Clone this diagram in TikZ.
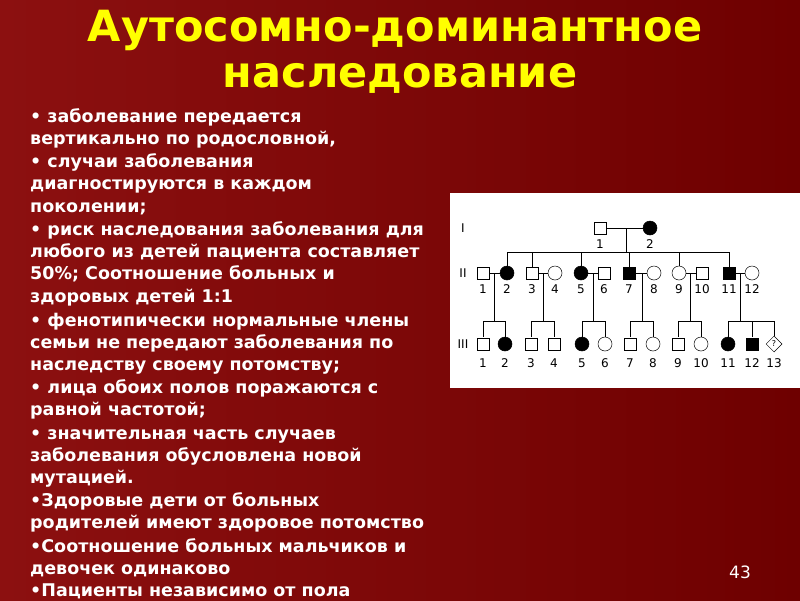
\documentclass[tikz,border=0pt]{standalone}
\usepackage{fontspec}
\setmainfont{DejaVu Sans}
\usetikzlibrary{shapes.geometric}
\begin{document}
\begin{tikzpicture}[x=1pt,y=-1pt,
  body/.style={anchor=base west,text=white,font=\fontsize{17.5}{20}\selectfont\bfseries,inner sep=0},
  ttl/.style={text={rgb,255:red,255;green,255;blue,0},font=\fontsize{43}{46}\selectfont\bfseries,inner sep=0},
  m/.style={draw=black,line width=0.5pt,fill=white,minimum size=12pt,inner sep=0,rectangle},
  f/.style={draw=black,line width=0.5pt,fill=white,minimum size=14pt,inner sep=0,circle},
  ma/.style={m,fill=black},
  fa/.style={f,fill=black},
  lbl/.style={font=\fontsize{12}{13}\selectfont,inner sep=0},
  ln/.style={line width=0.6pt}]
\useasboundingbox (0,0) rectangle (800,600);
\shade[left color={rgb,255:red,140;green,16;blue,16},right color={rgb,255:red,110;green,0;blue,0}] (0,0) rectangle (800,600);
\node[ttl] (t1) at (395,30) {Аутосомно-доминантное};
\node[ttl] (t2) at (400,78) {наследование};
\foreach \y/\t [count=\i] in {116/• заболевание передается,138/{вертикально по родословной,},161/• случаи заболевания,183/диагностируются в каждом,206/поколении;,229/• риск наследования заболевания для,251/любого из детей пациента составляет,273/50\%; Соотношение больных и,296/здоровых детей 1:1,320/• фенотипически нормальные члены,342/семьи не передают заболевания по,364/наследству своему потомству;,387/• лица обоих полов поражаются с,409/равной частотой;,433/• значительная часть случаев,455/заболевания обусловлена новой,477/мутацией.,500/•Здоровые дети от больных,522/родителей имеют здоровое потомство,546/•Соотношение больных мальчиков и,568/девочек одинаково,590/•Пациенты независимо от пола}
  \node[body] (b\i) at (30,\y+6) {\t};
\node[text=white,font=\fontsize{17}{18}\selectfont,inner sep=0] (pg) at (740,572) {43};
% pedigree panel
\fill[white] (450,193) rectangle (800,388);
\node[lbl] (gI) at (463,228) {I};
\node[lbl] (gII) at (463,273) {II};
\node[lbl] (gIII) at (463,344) {III};
% generation I
\node[m] (a1) at (600,228) {};
\node[fa] (a2) at (650,228) {};
\draw[ln] (a1) -- (a2);
\coordinate (ma) at (626,228);
\coordinate (sa) at (626,252);
\draw[ln] (ma) -- (sa);
\coordinate (sl) at (507,252); \coordinate (sr) at (729,252);
\draw[ln] (sl) -- (sr);
\node[lbl] at (600,244) {1}; \node[lbl] at (650,244) {2};
% generation II
\foreach \n/\x/\s in {1/483/m,2/507/fa,3/532/m,4/555/f,5/581/fa,6/604/m,7/629/ma,8/654/f,9/679/f,10/702/m,11/729/ma,12/752/f}{
  \node[\s] (b2\n) at (\x,273) {};
  \node[lbl] at (\x,289) {\n};}
\foreach \n/\x in {2/507,3/532,5/581,7/629,9/679,11/729} \draw[ln] (\x,252) -- (b2\n);
\foreach \a/\b/\c/\l/\r in {1/2/494/483/505,3/4/543/531/554,5/6/593/582/605,7/8/642/630/653,9/10/690/678/701,11/12/740/728/774}{
  \draw[ln] (b2\a) -- (b2\b);
  \draw[ln] (\c,273) -- (\c,321);
  \draw[ln] (\l,321) -- (\r,321);}
% generation III
\foreach \n/\x/\s in {1/483/m,2/505/fa,3/531/m,4/554/m,5/582/fa,6/605/f,7/630/m,8/653/f,9/678/m,10/701/f,11/728/fa,12/752/ma}{
  \draw[ln] (\x,321) -- (\x,337);
  \node[\s] (c\n) at (\x,344) {};
  \node[lbl] at (\x,363) {\n};}
\draw[ln] (774,321) -- (774,336);
\node[draw,diamond,line width=0.5pt,fill=white,minimum size=16pt,inner sep=0,font=\fontsize{8}{9}\selectfont] (c13) at (774,344) {?};
\node[lbl] at (774,363) {13};
\end{tikzpicture}
\end{document}
